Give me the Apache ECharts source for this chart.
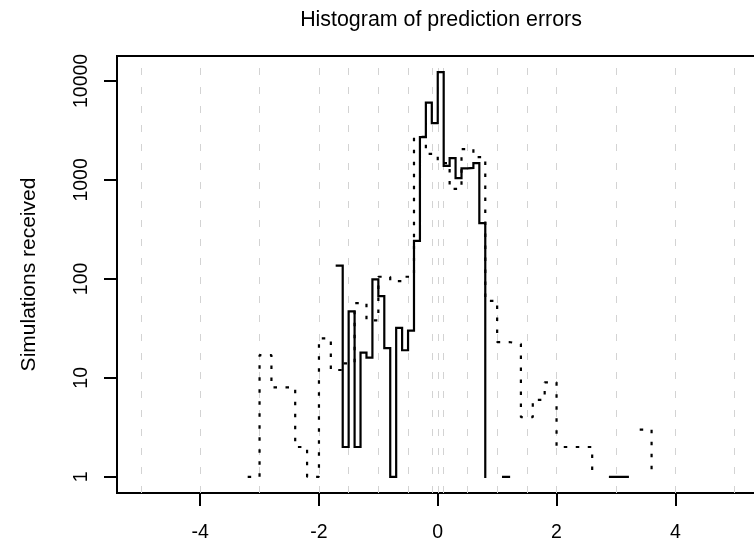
<!DOCTYPE html>
<html>
<head>
<meta charset="utf-8">
<title>Histogram of prediction errors</title>
<script src="https://cdn.jsdelivr.net/npm/echarts@6/dist/echarts.min.js"></script>
<style>
  html, body { margin: 0; padding: 0; background: #fff; }
  #chart { width: 754px; height: 542px; }
</style>
</head>
<body>
<div id="chart"></div>
<script>
// solid histogram: 0.1 wide bins, left edges + counts (0 = empty bin)
const solidEdges = [-1.7, -1.6, -1.5, -1.4, -1.3, -1.2, -1.1, -1.0, -0.9, -0.8,
  -0.7, -0.6, -0.5, -0.4, -0.3, -0.2, -0.1, 0, 0.1, 0.2,
  0.3, 0.4, 0.5, 0.6, 0.7, 0.8, 0.9, 1.0, 1.1, 1.2,
  1.3, 1.4, 1.5, 1.6, 1.7, 1.8, 1.9, 2.0, 2.1, 2.2,
  2.3, 2.4, 2.5, 2.6, 2.7, 2.8, 2.9, 3.0, 3.1, 3.2]
const solidCounts = [136, 2, 47, 2, 18, 16, 99, 67, 20, 1,
  32, 19, 30, 242, 2700, 6040, 3740, 12250, 1385, 1657,
  1040, 1310, 1320, 1475, 365, 1, 0, 0, 1, 1,
  0, 0, 0, 0, 0, 0, 0, 0, 0, 0,
  0, 0, 0, 0, 0, 0, 1, 1, 1, 1]

// dotted histogram: 0.2 wide bins
const dottedEdges = [-3.2, -3.0, -2.8, -2.6, -2.4, -2.2, -2.0, -1.8, -1.6, -1.4,
  -1.2, -1.0, -0.8, -0.6, -0.4, -0.2, 0, 0.2, 0.4, 0.6,
  0.8, 1.0, 1.2, 1.4, 1.6, 1.8, 2.0, 2.2, 2.4, 2.6,
  2.8, 3.0, 3.2, 3.4, 3.6]
const dottedCounts = [1, 17, 8, 8, 2, 1, 25, 12, 14, 57,
  38, 105, 95, 105, 2720, 1830, 1480, 810, 2050, 1700,
  60, 23, 22, 4, 6, 9, 2, 2, 2, 1,
  0, 0, 0, 3, 1]

const xTicks = [-4, -2, 0, 2, 4]
const yTicks = [1, 10, 100, 1000, 10000]
const yTickLabels = ['1', '10', '100', '1000', '10000']
const gridX = [-5, -4, -3, -2, -1.5, -1, -0.5, -0.1, 0, 0.1, 0.5, 1, 1.5, 2, 3, 4, 5]
const xRange = [-5.4, 5.4]
const yRange = [0.686, 17860]

const FONT = '"Liberation Sans", Arial, Helvetica, sans-serif'

// like R's type = "s": horizontal then vertical, nothing drawn next to empty bins
function toSteps(edges, counts) {
  const pts = []
  for (let i = 0; i < edges.length; i++) {
    if (!(counts[i] > 0)) { pts.push([edges[i], '-']); continue }
    if (i > 0 && counts[i - 1] > 0) pts.push([edges[i], counts[i - 1]])
    pts.push([edges[i], counts[i]])
  }
  return pts
}

const chart = echarts.init(document.getElementById('chart'), null, { renderer: 'canvas' })

// ticks/labels live on a linear axis in log10 units, data on the log axis
const logY = yTicks.map(v => Math.log10(v))
const blackLine = { color: '#000', width: 2 }

chart.setOption({
  animation: false,
  backgroundColor: '#fff',
  textStyle: { fontFamily: FONT },
  title: {
    text: 'Histogram of prediction errors',
    left: 436,
    top: 5,
    textAlign: 'center',
    textStyle: { fontFamily: FONT, fontSize: 21.4, fontWeight: 'normal', color: '#000' },
  },
  grid: {
    left: 117, top: 56, width: 641.5, height: 437,
    outerBoundsMode: 'none',
    show: true, borderColor: '#000', borderWidth: 2, backgroundColor: 'transparent',
  },
  xAxis: {
    type: 'value',
    min: xRange[0], max: xRange[1],
    position: 'bottom',
    axisLine: { show: true, onZero: false, lineStyle: blackLine },
    splitLine: { show: false },
    axisTick: { show: true, inside: false, customValues: xTicks, length: 13, lineStyle: blackLine },
    axisLabel: {
      customValues: xTicks, margin: 30, fontSize: 19.5, color: '#000', fontFamily: FONT,
      formatter: v => String(v),
    },
  },
  yAxis: [
    {
      type: 'value', position: 'left',
      min: Math.log10(yRange[0]), max: Math.log10(yRange[1]),
      name: 'Simulations received',
      nameLocation: 'middle', nameRotate: 90, nameGap: 77,
      nameTextStyle: { fontSize: 21, color: '#000', fontFamily: FONT },
      axisLine: { show: true, onZero: false, lineStyle: blackLine },
      splitLine: { show: false },
      axisTick: { show: true, inside: false, customValues: logY, length: 13, lineStyle: blackLine },
      axisLabel: {
        customValues: logY, rotate: 90, margin: 25.5, fontSize: 19.5, color: '#000', fontFamily: FONT,
        formatter: v => yTickLabels[Math.round(v)],
      },
    },
    {
      type: 'log', logBase: 10, position: 'left',
      min: yRange[0], max: yRange[1],
      axisLine: { show: false, onZero: false }, axisTick: { show: false },
      axisLabel: { show: false }, splitLine: { show: false },
    },
  ],
  series: [
    {
      name: 'grid',
      type: 'line',
      yAxisIndex: 1,
      data: [],
      silent: true,
      markLine: {
        z: 1,
        silent: true,
        symbol: ['none', 'none'],
        label: { show: false },
        lineStyle: { color: '#d3d3d3', width: 1, type: [7, 12] },
        data: gridX.map(v => ({ xAxis: v })),
      },
    },
    {
      name: 'dotted',
      type: 'line',
      yAxisIndex: 1,
      data: toSteps(dottedEdges, dottedCounts),
      showSymbol: false, symbol: 'none',
      connectNulls: false,
      z: 3,
      lineStyle: { color: '#000', width: 2.2, type: [3.5, 8.5], cap: 'butt' },
    },
    {
      name: 'solid',
      type: 'line',
      yAxisIndex: 1,
      data: toSteps(solidEdges, solidCounts),
      showSymbol: false, symbol: 'none',
      connectNulls: false,
      z: 4,
      lineStyle: { color: '#000', width: 2.2, join: 'miter', cap: 'square' },
    },
  ],
})

window.addEventListener('resize', () => chart.resize())
</script>
</body>
</html>
